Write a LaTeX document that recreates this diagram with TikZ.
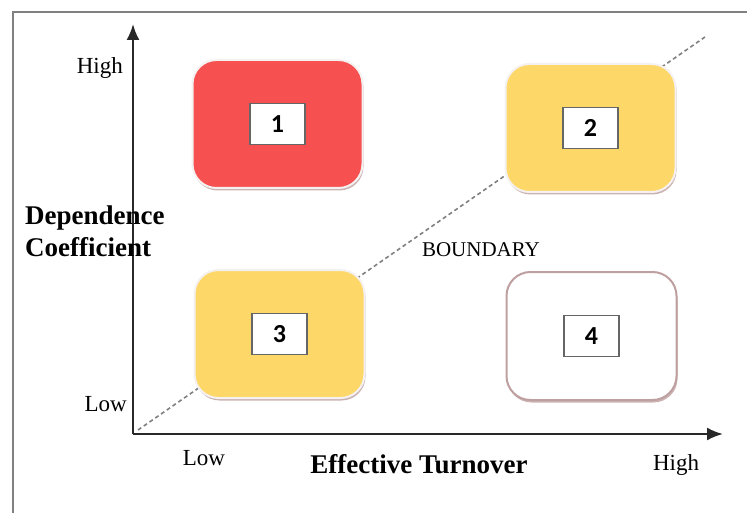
\documentclass[tikz,border=0pt]{standalone}
\usepackage{fontspec}
\setmainfont{Liberation Serif}
\newfontfamily\numfont{Carlito}
\usetikzlibrary{arrows.meta,shadows}
\definecolor{redbox}{RGB}{246,80,80}
\definecolor{yellowbox}{RGB}{253,216,104}
\definecolor{rimbox}{RGB}{190,160,160}
\definecolor{axisgray}{RGB}{40,40,40}
\tikzset{
  quad/.style={rounded corners=24pt, minimum width=170pt, minimum height=128pt,
    drop shadow={shadow xshift=1pt, shadow yshift=-2.5pt, fill=rimbox, opacity=0.8}},
  colquad/.style={quad, draw=white!85!rimbox, line width=2pt},
  openquad/.style={quad, draw=rimbox, line width=2pt, fill=white},
  numbox/.style={draw=gray!80!black, fill=white, line width=1.6pt,
    minimum width=55pt, minimum height=41pt, font=\numfont\bfseries\fontsize{26}{26}\selectfont},
  axis/.style={draw=axisgray, line width=2.2pt, -{Latex[length=16pt,width=13pt]}},
  lbl/.style={inner sep=0pt, font=\fontsize{23}{23}\selectfont},
  title/.style={inner sep=0pt, font=\bfseries\fontsize{27}{32}\selectfont}
}
\begin{document}
\begin{tikzpicture}[x=1pt,y=-1pt]
\useasboundingbox (0,0) rectangle (747,513);
% outer frame
\draw[gray, line width=2pt] (13,513) -- (13,12) -- (747,12);
% axes
\coordinate (O) at (133,434);
\coordinate (ytop) at (133,24);
\coordinate (xend) at (723,434);
\draw[axis] (O) -- (ytop);
\draw[axis] (O) -- (xend);
% boundary
\coordinate (b0) at (138,430);
\coordinate (b1) at (705,37);
\draw[gray, dash pattern=on 4pt off 3pt, line width=1.6pt] (b0) -- (b1);
\node[inner sep=0pt, font=\fontsize{21}{21}\selectfont] (bound) at (481,250) {BOUNDARY};
% quadrants
\node[colquad, fill=redbox] (q1) at (277.5,124) {};
\node[colquad, fill=yellowbox] (q2) at (590.5,128) {};
\node[colquad, fill=yellowbox] (q3) at (279.5,334) {};
\node[openquad] (q4) at (591.5,336) {};
\node[numbox] (n1) at (q1) {1};
\node[numbox] (n2) at (q2) {2};
\node[numbox] (n3) at (q3) {3};
\node[numbox] (n4) at (q4) {4};
% axis labels
\node[lbl, anchor=east] (yhigh) at (123,68) {High};
\node[lbl, anchor=east] (ylow) at (127,404) {Low};
\node[lbl] (xlow) at (204,458) {Low};
\node[lbl] (xhigh) at (676,465) {High};
\node[title, align=left, anchor=west] (ytitle) at (25,231) {Dependence\\Coefficient};
\node[title] (xtitle) at (419,464) {Effective Turnover};
\end{tikzpicture}
\end{document}
